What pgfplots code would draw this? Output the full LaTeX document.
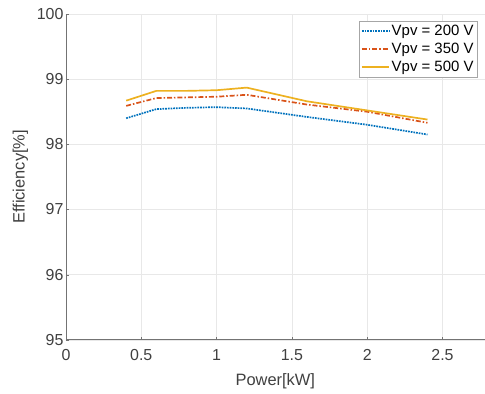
\documentclass[border=0pt]{standalone}
\usepackage{pgfplots}
\pgfplotsset{compat=1.18}
\usepackage{fontspec}
\setmainfont{Liberation Sans}
\definecolor{mblue}{rgb}{0,0.447,0.741}
\definecolor{mred}{rgb}{0.85,0.325,0.098}
\definecolor{myellow}{rgb}{0.929,0.694,0.125}
\definecolor{axgray}{gray}{0.45}
\begin{document}
\begin{tikzpicture}
\begin{axis}[
  scale only axis,
  width=419bp, height=326bp,
  xmin=0, xmax=2.78, ymin=95, ymax=100,
  xtick={0,0.5,1,1.5,2,2.5},
  xticklabels={0,0.5,1,1.5,2,2.5},
  ytick={95,96,97,98,99,100},
  axis lines*=left,
  axis line style={axgray, line width=0.6pt},
  tick style={axgray},
  tick align=inside,
  major tick length=3pt,
  grid=major,
  grid style={gray!18, line width=0.5pt},
  font=\fontsize{16}{18}\selectfont,
  tick label style={text=black!75},
  /pgf/number format/assume math mode=true,
  xticklabel style={yshift=-6bp},
  yticklabel style={xshift=1bp},
  xlabel={Power[kW]},
  ylabel={Efficiency[\%]},
  label style={text=black!75, font=\fontsize{16.5}{18}\selectfont},
  xlabel style={at={(axis description cs:0.5,0)}, anchor=center, yshift=-41bp},
  ylabel style={yshift=2pt},
  legend style={at={(1,1)}, xshift=-7bp, yshift=-7bp, anchor=north east, draw=gray!70, fill=white, font=\fontsize{15}{17}\selectfont, inner sep=2pt, row sep=2pt},
  legend image code/.code={\draw[#1] (0bp,0bp) -- (27bp,0bp);},
  legend cell align=left,
]
\addplot[color=mblue, densely dotted, line width=1.7pt] coordinates {
(0.4,98.40) (0.6,98.54) (0.8,98.56) (1.0,98.57) (1.2,98.55) (1.6,98.42) (2.0,98.30) (2.4,98.15)};
\addlegendentry{Vpv = 200 V}
\addplot[color=mred, dash pattern=on 5pt off 2pt on 1.5pt off 2pt, line width=1.7pt] coordinates {
(0.4,98.59) (0.6,98.71) (0.8,98.72) (1.0,98.73) (1.2,98.76) (1.6,98.61) (2.0,98.50) (2.4,98.33)};
\addlegendentry{Vpv = 350 V}
\addplot[color=myellow, solid, line width=1.7pt] coordinates {
(0.4,98.67) (0.6,98.82) (0.8,98.82) (1.0,98.83) (1.2,98.87) (1.6,98.66) (2.0,98.52) (2.4,98.38)};
\addlegendentry{Vpv = 500 V}
\end{axis}
\useasboundingbox (current axis.south west) ++(-66bp,-54bp) rectangle ([shift={(0bp,14bp)}]current axis.north east);
\end{tikzpicture}
\end{document}
